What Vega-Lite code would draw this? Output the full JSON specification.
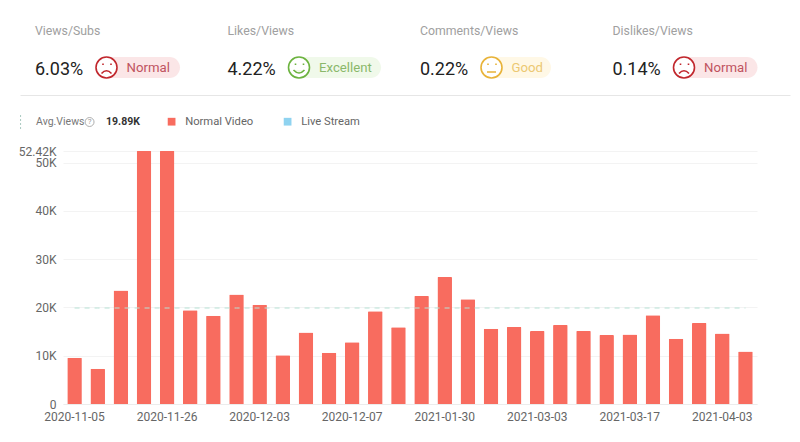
{
"$schema":"https://vega.github.io/schema/vega-lite/v6.json",
"background":"#ffffff",
"padding":{"left":18,"top":0,"right":0,"bottom":0},
"config":{"view":{"stroke":null},"font":"Roboto"},
"datasets":{
"kpi":[
{"metric":"Views/Subs","reading":"6.03%","status":"Normal"},
{"metric":"Likes/Views","reading":"4.22%","status":"Excellent"},
{"metric":"Comments/Views","reading":"0.22%","status":"Good"},
{"metric":"Dislikes/Views","reading":"0.14%","status":"Normal"}
],
"videos":[
{"date":"2020-11-05","views":9600,"type":"Normal Video"},
{"date":"2020-11-12","views":7300,"type":"Normal Video"},
{"date":"2020-11-19","views":23500,"type":"Normal Video"},
{"date":"2020-11-23","views":52420,"type":"Normal Video"},
{"date":"2020-11-26","views":52420,"type":"Normal Video"},
{"date":"2020-11-28","views":19400,"type":"Normal Video"},
{"date":"2020-11-30","views":18300,"type":"Normal Video"},
{"date":"2020-12-01","views":22700,"type":"Normal Video"},
{"date":"2020-12-03","views":20550,"type":"Normal Video"},
{"date":"2020-12-04","views":10100,"type":"Normal Video"},
{"date":"2020-12-05","views":14800,"type":"Normal Video"},
{"date":"2020-12-06","views":10600,"type":"Normal Video"},
{"date":"2020-12-07","views":12800,"type":"Normal Video"},
{"date":"2020-12-15","views":19200,"type":"Normal Video"},
{"date":"2021-01-05","views":15900,"type":"Normal Video"},
{"date":"2021-01-18","views":22400,"type":"Normal Video"},
{"date":"2021-01-30","views":26300,"type":"Normal Video"},
{"date":"2021-02-06","views":21700,"type":"Normal Video"},
{"date":"2021-02-15","views":15600,"type":"Normal Video"},
{"date":"2021-02-24","views":15950,"type":"Normal Video"},
{"date":"2021-03-03","views":15100,"type":"Normal Video"},
{"date":"2021-03-06","views":16350,"type":"Normal Video"},
{"date":"2021-03-10","views":15100,"type":"Normal Video"},
{"date":"2021-03-13","views":14300,"type":"Normal Video"},
{"date":"2021-03-17","views":14400,"type":"Normal Video"},
{"date":"2021-03-21","views":18400,"type":"Normal Video"},
{"date":"2021-03-25","views":13500,"type":"Normal Video"},
{"date":"2021-03-30","views":16800,"type":"Normal Video"},
{"date":"2021-04-03","views":14600,"type":"Normal Video"},
{"date":"2021-04-07","views":10900,"type":"Normal Video"}
]
},
"resolve":{"scale":{"color":"independent","shape":"independent","fill":"independent","stroke":"independent"}},
"vconcat":[
{
"width":694,"height":95,
"data":{"name":"kpi"},
"encoding":{"x":{"field":"metric","type":"nominal","bandPosition":0,"sort":null,"scale":{"type":"band","paddingInner":0,"paddingOuter":0,"range":[-43,727]},"axis":{"labels":false,"ticks":false,"title":null,"domain":true,"domainColor":"#e6e6e6","domainWidth":1}}},
"resolve":{"scale":{"shape":"independent"}},
"layer":[
{"mark":{"type":"text","align":"left","baseline":"middle","dx":15,"yOffset":-16.5,"fontSize":12.3,"color":"#a0a0a0"},"encoding":{"text":{"field":"metric"}}},
{"mark":{"type":"text","align":"left","baseline":"middle","dx":15,"yOffset":22,"fontSize":18,"color":"#222222"},"encoding":{"text":{"field":"reading"}}},
{"mark":{"type":"point","filled":true,"size":4,"opacity":1,"yOffset":20},
"encoding":{
"shape":{"field":"status","legend":null,"scale":{"domain":["Normal","Excellent","Good"],"range":[
"M86.5,-10.5H149.5A10.5,10.5,0,0,1,149.5,10.5H86.5A10.5,10.5,0,0,1,86.5,-10.5Z",
"M86.5,-10.5H158A10.5,10.5,0,0,1,158,10.5H86.5A10.5,10.5,0,0,1,86.5,-10.5Z",
"M86.5,-10.5H135.5A10.5,10.5,0,0,1,135.5,10.5H86.5A10.5,10.5,0,0,1,86.5,-10.5Z"]}},
"fill":{"field":"status","legend":null,"scale":{"domain":["Normal","Excellent","Good"],"range":["#fbe6e7","#f0f9ea","#fff8e6"]}}
}},
{"mark":{"type":"point","filled":true,"fill":"#ffffff","size":4,"opacity":1,"strokeOpacity":1,"fillOpacity":1,"strokeWidth":1.6,"yOffset":20},
"encoding":{
"shape":{"field":"status","legend":null,"scale":{"domain":["Normal","Excellent","Good"],"range":[
"M76,0A10.5,10.5,0,1,1,97,0A10.5,10.5,0,1,1,76,0Z M83,-4v1.5 M91,-4v1.5 M81.5,6 Q86.5,0.5 91.5,6",
"M76,0A10.5,10.5,0,1,1,97,0A10.5,10.5,0,1,1,76,0Z M83,-4v1.5 M91,-4v1.5 M81,2.5 Q86.5,8.5 92,2.5",
"M76,0A10.5,10.5,0,1,1,97,0A10.5,10.5,0,1,1,76,0Z M83,-4v1.5 M91,-4v1.5 M82,4.5 H91"]}},
"stroke":{"field":"status","legend":null,"scale":{"domain":["Normal","Excellent","Good"],"range":["#c1272d","#6cb33f","#e8b339"]}}
}},
{"mark":{"type":"text","align":"left","baseline":"middle","dx":106.5,"yOffset":20.5,"fontSize":13.2},
"encoding":{"text":{"field":"status"},
"color":{"field":"status","legend":null,"scale":{"domain":["Normal","Excellent","Good"],"range":["#c0535f","#8ab86a","#ecc872"]}}}}
]
},
{
"width":694,"height":253,
"data":{"name":"videos"},
"encoding":{"x":{"field":"date","type":"ordinal","sort":null,"scale":{"type":"band","paddingInner":0.37,"paddingOuter":0.185},
"axis":{"title":null,"labelAngle":0,"values":["2020-11-05","2020-11-26","2020-12-03","2020-12-07","2021-01-30","2021-03-03","2021-03-17","2021-04-03"],"labelFontSize":12,"labelColor":"#666666","labelPadding":7,"ticks":false,"domain":true,"domainColor":"#ececec","grid":false}}},
"layer":[
{"mark":{"type":"bar","cornerRadiusTopLeft":1,"cornerRadiusTopRight":1},
"encoding":{
"y":{"field":"views","type":"quantitative","scale":{"domain":[0,52420],"nice":false},
"axis":{"title":null,"values":[0,10000,20000,30000,40000,50000,52420],"labelExpr":"datum.value==52420?'52.42K':datum.value==0?'0':(datum.value/1000)+'K'","labelOverlap":false,"labelFontSize":12,"labelColor":"#666666","labelPadding":7,"minExtent":43,"maxExtent":43,"ticks":false,"domain":false,"grid":true,"gridColor":"#f3f3f3"}},
"color":{"field":"type","type":"nominal","scale":{"domain":["Normal Video","Live Stream"],"range":["#f86c5f","#8fd3f0"]},
"legend":{"title":null,"orient":"none","legendX":103,"legendY":-35,"direction":"horizontal","symbolType":"square","symbolSize":60,"symbolStrokeWidth":0,"labelFontSize":11.2,"labelColor":"#666666","labelOffset":8,"columnPadding":28}}
}},
{"mark":{"type":"line","strokeDash":[5,5],"strokeWidth":1,"color":"#b7e2d6"},
"encoding":{"y":{"datum":19890,"type":"quantitative"}}},
{"transform":[{"filter":"datum.date=='2020-11-05'"}],"mark":{"type":"text","align":"left","baseline":"middle","xOffset":-38.5,"yOffset":-29,"fontSize":10.5,"color":"#777777","text":"Avg.Views"},
"encoding":{"y":{"datum":52420,"type":"quantitative"}}},
{"transform":[{"filter":"datum.date=='2020-11-05'"}],"mark":{"type":"point","size":80,"strokeWidth":0.8,"color":"#999999","opacity":1,"xOffset":15,"yOffset":-29},
"encoding":{"y":{"datum":52420,"type":"quantitative"}}},
{"transform":[{"filter":"datum.date=='2020-11-05'"}],"mark":{"type":"text","align":"center","baseline":"middle","xOffset":15,"yOffset":-29,"fontSize":8,"color":"#999999","text":"?"},
"encoding":{"y":{"datum":52420,"type":"quantitative"}}},
{"transform":[{"filter":"datum.date=='2020-11-05'"}],"mark":{"type":"text","align":"left","baseline":"middle","xOffset":31.5,"yOffset":-29,"fontSize":10.5,"fontWeight":"bold","color":"#333333","text":"19.89K"},
"encoding":{"y":{"datum":52420,"type":"quantitative"}}},
{"transform":[{"filter":"datum.date=='2020-11-05'"}],"mark":{"type":"point","shape":"M0,-7V7","size":4,"strokeWidth":1,"strokeDash":[2,2],"color":"#a9c9c0","opacity":1,"xOffset":-54,"yOffset":-29},
"encoding":{"y":{"datum":52420,"type":"quantitative"}}}
]
}
],
"spacing":18
}
